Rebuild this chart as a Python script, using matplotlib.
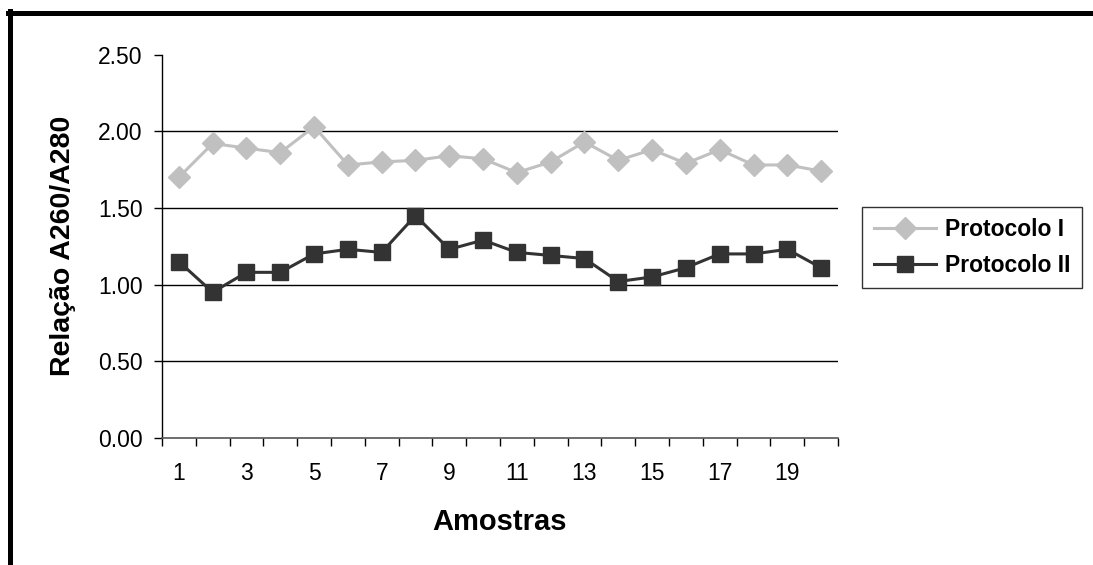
import numpy as np
import matplotlib.pyplot as plt
from matplotlib.lines import Line2D

plt.rcParams['font.family'] = ['Liberation Sans', 'DejaVu Sans']

amostras = list(range(1, 21))
protocolo_1 = [1.70, 1.92, 1.89, 1.86, 2.03, 1.78, 1.80, 1.81, 1.84, 1.82,
               1.73, 1.80, 1.93, 1.81, 1.88, 1.79, 1.88, 1.78, 1.78, 1.74]
protocolo_2 = [1.15, 0.95, 1.08, 1.08, 1.20, 1.23, 1.21, 1.45, 1.23, 1.29,
               1.21, 1.19, 1.17, 1.02, 1.05, 1.11, 1.20, 1.20, 1.23, 1.11]
yticks = [0.0, 0.5, 1.0, 1.5, 2.0, 2.5]

fig = plt.figure(figsize=(10.93, 5.65), dpi=100)
ax = fig.add_axes([0.1482, 0.2248, 0.6185, 0.6787])

# linhas de grade horizontais (sem a de 2.50)
for v in yticks[1:-1]:
    ax.axhline(v, color='black', lw=1.0, zorder=1)

l1, = ax.plot(amostras, protocolo_1, color='#C0C0C0', lw=2.2, marker='D',
              markersize=11, markeredgecolor='#C0C0C0', label='Protocolo I', zorder=3)
l2, = ax.plot(amostras, protocolo_2, color='#333333', lw=2.2, marker='s',
              markersize=11, markeredgecolor='#333333', label='Protocolo II', zorder=3)

ax.set_xlim(0.5, 20.5)
ax.set_ylim(0, 2.5)
ax.set_yticks(yticks)
ax.set_yticklabels(['%.2f' % v for v in yticks])
ax.set_xticks(amostras[::2])
ax.set_xticks(np.arange(0.5, 21, 1), minor=True)
ax.tick_params(axis='x', which='major', length=0, pad=17, labelsize=16.5)
ax.tick_params(axis='x', which='minor', length=6, width=1, direction='out')
ax.tick_params(axis='y', length=6, width=1, direction='out', pad=8, labelsize=16.5)

for s in ['top', 'right']:
    ax.spines[s].set_visible(False)
ax.spines['left'].set_linewidth(1.0)
ax.spines['bottom'].set_color('#555555')
ax.spines['bottom'].set_linewidth(1.2)

ax.set_xlabel('Amostras', fontsize=21, fontweight='bold', labelpad=17)
ax.set_ylabel('Relação A260/A280', fontsize=20.5, fontweight='bold', labelpad=16)

leg = fig.legend(handles=[l1, l2], loc='upper left', bbox_to_anchor=(0.789, 0.634),
                 frameon=True, fancybox=False, edgecolor='black', fontsize=16.5,
                 handlelength=2.7, handletextpad=0.4, borderpad=0.5,
                 labelspacing=0.55, borderaxespad=0)
leg.get_frame().set_linewidth(1.0)
for t in leg.get_texts():
    t.set_fontweight('bold')

# moldura da figura
fig.add_artist(Line2D([8 / 1093, 1.0], [1 - 13 / 565] * 2, color='black', lw=3.6,
                      transform=fig.transFigure))
fig.add_artist(Line2D([10 / 1093] * 2, [0.0, 1 - 11 / 565], color='black', lw=3.6,
                      transform=fig.transFigure))

fig.savefig('out.png', dpi=100)
